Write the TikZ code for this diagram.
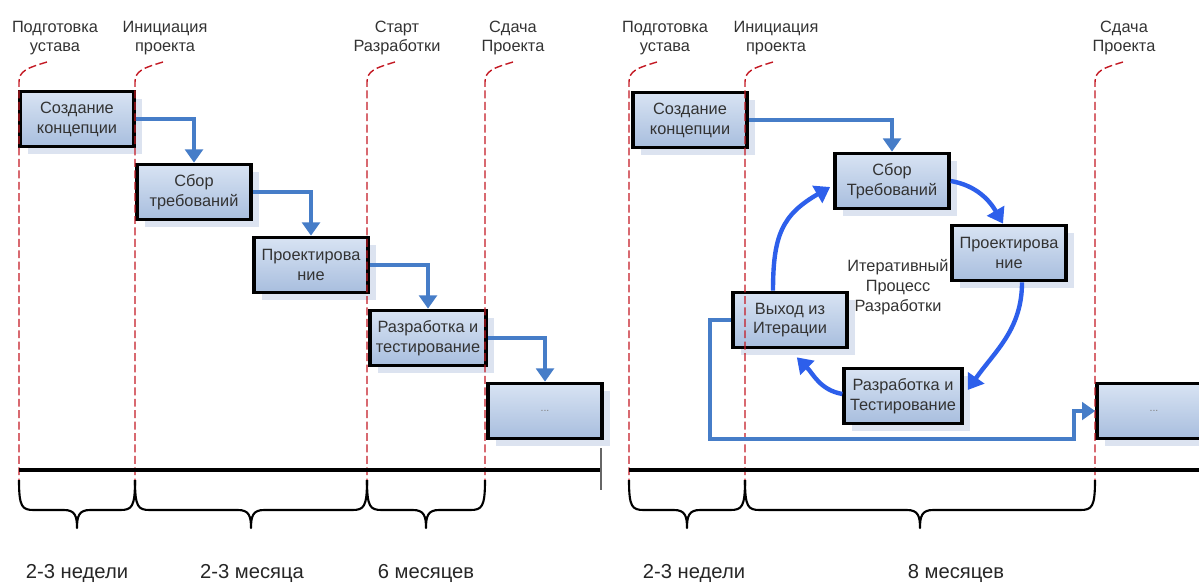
\documentclass[tikz,border=0pt]{standalone}
\usepackage{fontspec}
\setmainfont{Liberation Sans}
\usetikzlibrary{calc}
\usetikzlibrary{positioning}
\usetikzlibrary{arrows.meta}
\usetikzlibrary{shadows}
\definecolor{flowBlue}{RGB}{70,125,200}
\definecolor{cycleBlue}{RGB}{45,95,235}
\definecolor{msRed}{RGB}{195,25,35}
\definecolor{boxLight}{RGB}{216,227,243}
\definecolor{boxDark}{RGB}{168,190,222}
\definecolor{boxShadow}{RGB}{220,227,240}
\tikzstyle{stagebox} = [draw, line width=2.1pt, top color=boxLight, bottom color=boxDark, minimum width=2.28cm, minimum height=1.1cm, align=center, text=black!80, font=\fontsize{9.3}{11.3}\selectfont, drop shadow={shadow xshift=4.5pt, shadow yshift=-4.5pt, fill=boxShadow, opacity=1}]
\tikzstyle{msnote} = [align=center, inner sep=0, text=black!80, font=\fontsize{9.3}{11.3}\selectfont]
\tikzstyle{spanlabel} = [inner sep=0, text=black!85, font=\fontsize{11.5}{13}\selectfont]
\tikzstyle{milestone} = [draw=msRed, line width=0.8pt, dash pattern=on 4.5pt off 2pt]
\tikzstyle{timeline} = [line width=2.1pt]
\tikzstyle{braceline} = [line width=1.2pt, line join=round]
\tikzstyle{flowarrow} = [draw=flowBlue, line width=2pt, -{Triangle[width=10pt,length=7.5pt]}]
\tikzstyle{cyclearrow} = [draw=cycleBlue, line width=2.5pt, -{Triangle[width=11pt,length=8.5pt]}]
\newcommand{\spanbrace}[2]{%
  \draw[braceline] (#1,480) .. controls (#1,507) and (#1+3,510) .. (#1+15,510)
    -- ({(#1+#2)/2-13},510) .. controls ({(#1+#2)/2-2},510) and ({(#1+#2)/2},516) .. ({(#1+#2)/2},528)
    .. controls ({(#1+#2)/2},516) and ({(#1+#2)/2+2},510) .. ({(#1+#2)/2+13},510)
    -- (#2-15,510) .. controls (#2-3,510) and (#2,507) .. (#2,480);}

\begin{document}
\begin{tikzpicture}[x=0.02cm, y=-0.02cm]
    \useasboundingbox (0,0) rectangle (1199,582);

    % waterfall
    \node[stagebox] (concept) at (77,119) {Создание\\концепции};
    \node[stagebox] (req) at ($(concept)+(117,73)$) {Сбор\\требований};
    \node[stagebox] (design) at ($(req)+(117,73)$) {Проектирова\\ние};
    \node[stagebox] (dev) at ($(design)+(117,73)$) {Разработка и\\тестирование};
    \node[stagebox, font=\fontsize{6}{7}\selectfont, text=gray] (dots) at ($(dev)+(117,73)$) {...};

    % iterative
    \node[stagebox] (concept2) at (690,120) {Создание\\концепции};
    \node[stagebox] (req2) at (892,181) {Сбор\\Требований};
    \node[stagebox] (design2) at (1009,253) {Проектирова\\ние};
    \node[stagebox] (dev2) at (903,396) {Разработка и\\Тестирование};
    \node[stagebox] (exit2) at (790,320) {Выход из\\Итерации};
    \node[stagebox, font=\fontsize{6}{7}\selectfont, text=gray] (dots2) at (1154,411) {...};
    \node[msnote] (cycle_lbl) at (898,287) {Итеративный\\Процесс\\Разработки};

    % milestones
    \foreach \mx in {19,135,367,485,629,745,1095}
        \draw[milestone] (\mx+28,62) .. controls (\mx+8,68) and (\mx,71) .. (\mx,82) -- (\mx,482);
    \node[msnote] (charter_lbl) at (55,38) {Подготовка\\устава};
    \node[msnote] (init_lbl) at (165,38) {Инициация\\проекта};
    \node[msnote] (devstart_lbl) at (397,38) {Старт\\Разработки};
    \node[msnote] (handover_lbl) at (513,38) {Сдача\\Проекта};
    \node[msnote] (charter2_lbl) at (665,38) {Подготовка\\устава};
    \node[msnote] (init2_lbl) at (776,38) {Инициация\\проекта};
    \node[msnote] (handover2_lbl) at (1124,38) {Сдача\\Проекта};

    % time axis
    \draw[timeline] (19,470) -- (602,470);
    \draw[black!60, line width=0.6pt] (601,448) -- (601,490);
    \draw[timeline] (629,470) -- (1199,470);
    \spanbrace{19}{135}
    \spanbrace{135}{367}
    \spanbrace{367}{485}
    \spanbrace{629}{745}
    \spanbrace{745}{1095}
    \node[spanlabel] (weeks_lbl) at (77,573) {2-3 недели};
    \node[spanlabel] (months_lbl) at (252,573) {2-3 месяца};
    \node[spanlabel] (six_lbl) at (426,573) {6 месяцев};
    \node[spanlabel] (weeks2_lbl) at (694,573) {2-3 недели};
    \node[spanlabel] (eight_lbl) at (956,573) {8 месяцев};

    \draw[flowarrow] (concept.east) -| (req.north);
    \draw[flowarrow] (req.east) -| (design.north);
    \draw[flowarrow] (design.east) -| (dev.north);
    \draw[flowarrow] (dev.east) -| (dots.north);
    \draw[flowarrow] (concept2.east) -| (req2.north);

    \draw[cyclearrow] (req2.east) to[out=-10, in=120] ($(design2.north)+(-6,0)$);
    \draw[cyclearrow] ($(design2.south)+(13,0)$) to[out=-90, in=55] ($(dev2.east)+(4,-6)$);
    \draw[cyclearrow] ($(dev2.west)+(0,-2)$) to[out=170, in=-45] ($(exit2.south east)+(-52,8)$);
    \draw[cyclearrow] ($(exit2.north)+(-17,0)$) to[out=90, in=-150, looseness=1.2] ($(req2.west)+(-3,6)$);

    \coordinate (exit_turn) at (710,439);
    \draw[flowarrow] (exit2.west) -| (exit_turn) -| ($(dots2.west)+(-21,0)$) -- (dots2.west);
\end{tikzpicture}
\end{document}
